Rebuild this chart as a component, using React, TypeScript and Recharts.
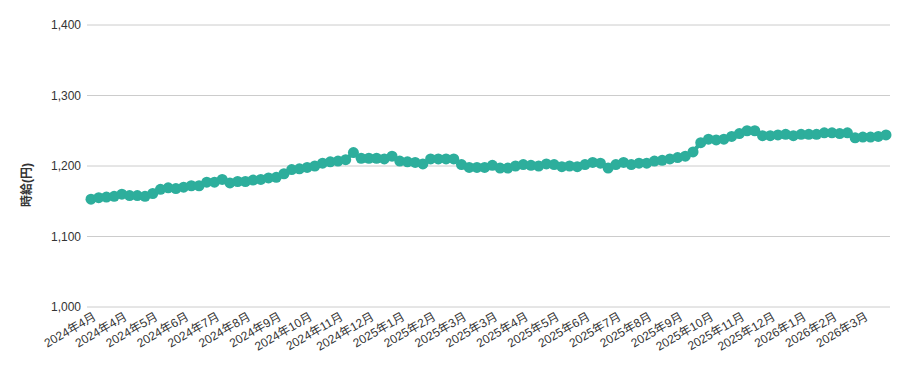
import { CartesianGrid, Label, Line, LineChart, XAxis, YAxis } from "recharts";

// weekly observations, Monday of each week from 2024-04-01 to 2026-03-23
const monthRuns: [string, number][] = [
  ["2024年4月", 5], ["2024年5月", 4], ["2024年6月", 4], ["2024年7月", 5],
  ["2024年8月", 4], ["2024年9月", 5], ["2024年10月", 4], ["2024年11月", 4],
  ["2024年12月", 5], ["2025年1月", 4], ["2025年2月", 4], ["2025年3月", 5],
  ["2025年4月", 4], ["2025年5月", 4], ["2025年6月", 5], ["2025年7月", 4],
  ["2025年8月", 4], ["2025年9月", 5], ["2025年10月", 4], ["2025年11月", 4],
  ["2025年12月", 5], ["2026年1月", 4], ["2026年2月", 4], ["2026年3月", 4],
];
const weeks: string[] = monthRuns.flatMap(([m, n]) => Array(n).fill(m));

// hourly wage (yen)
const wage = [
  1153, 1155, 1156, 1157, 1160, 1158, 1158, 1157, 1161, 1167,
  1169, 1168, 1170, 1172, 1172, 1177, 1177, 1181, 1176, 1178,
  1178, 1180, 1181, 1183, 1184, 1189, 1195, 1196, 1198, 1200,
  1204, 1206, 1207, 1209, 1219, 1211, 1211, 1211, 1210, 1214,
  1207, 1206, 1205, 1203, 1210, 1210, 1210, 1210, 1202, 1198,
  1198, 1198, 1201, 1197, 1197, 1200, 1202, 1201, 1200, 1203,
  1202, 1199, 1200, 1199, 1202, 1205, 1204, 1197, 1202, 1205,
  1202, 1204, 1204, 1207, 1208, 1210, 1212, 1214, 1220, 1233,
  1238, 1237, 1238, 1242, 1246, 1250, 1250, 1243, 1243, 1244,
  1245, 1243, 1245, 1245, 1245, 1247, 1247, 1246, 1247, 1240,
  1241, 1241, 1242, 1244,
];

const yTicks = [1000, 1100, 1200, 1300, 1400];

const data = weeks.map((label, i) => ({ label, wage: wage[i] }));

const TEAL = "#2dae9c";
const FONT = "'Liberation Sans', Arial, 'Noto Sans CJK JP', sans-serif";
const TEXT = "#333";

const XTick = (props: any) => {
  const { x, y, payload } = props;
  const ax = x + 6;
  const ay = y + 12;
  return (
    <text
      x={ax}
      y={ay}
      textAnchor="end"
      fontSize={12}
      fontFamily={FONT}
      fill={TEXT}
      transform={`rotate(-30 ${ax} ${ay})`}
    >
      {payload.value}
    </text>
  );
};

export default function App() {
  return (
    <LineChart
      width={893}
      height={355}
      data={data}
      margin={{ top: 17, right: 11, left: 0, bottom: 0 }}
    >
      <CartesianGrid vertical={false} stroke="#cccccc" />
      <XAxis
        dataKey="label"
        interval={3}
        tick={<XTick />}
        tickLine={false}
        axisLine={false}
        tickSize={0}
        tickMargin={0}
        height={56}
        padding={{ left: 4, right: 4 }}
      />
      <YAxis
        domain={[1000, 1400]}
        ticks={yTicks}
        width={79}
        tickLine={false}
        axisLine={false}
        tickSize={0}
        tickMargin={6}
        tick={{ fontSize: 12, fill: TEXT, fontFamily: FONT }}
        tickFormatter={(v: number) => v.toLocaleString("en-US")}
      >
        <Label
          content={() => (
            <text
              transform="translate(19 177) rotate(-90)"
              textAnchor="middle"
              dominantBaseline="central"
              fontSize={12}
              fontWeight="bold"
              fontFamily={FONT}
              fill={TEXT}
            >
              時給(円)
            </text>
          )}
        />
      </YAxis>
      <Line
        type="linear"
        dataKey="wage"
        stroke={TEAL}
        strokeWidth={4}
        dot={{ r: 5.5, fill: TEAL, stroke: TEAL, strokeWidth: 0 }}
        activeDot={false}
        isAnimationActive={false}
      />
    </LineChart>
  );
}
